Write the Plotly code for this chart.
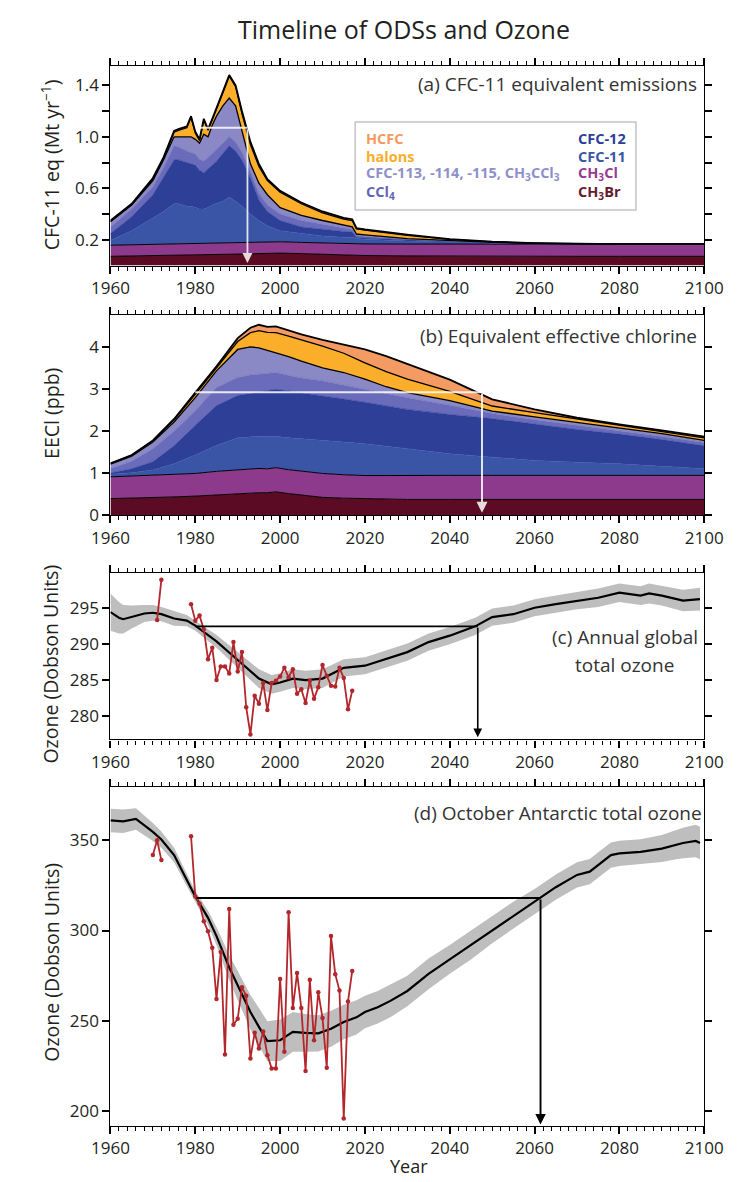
import plotly.graph_objects as go

FONT = "Open Sans"
TXT = "#231F20"

# ---------------- Panel (a): CFC-11 equivalent emissions (Mt/yr) ----------------
years_a = [1960, 1965, 1970, 1972.5, 1975, 1976, 1978, 1979, 1980, 1981, 1982, 1983, 1984,
           1985, 1986.5, 1988, 1989.5, 1991, 1993, 1995, 1997, 2000, 2005, 2010, 2015, 2017,
           2018, 2020, 2030, 2040, 2050, 2060, 2070, 2080, 2100]
a_ch3br = [.072, .074, .076, .077, .078, .078, .079, .080, .080, .081, .082, .083, .084, .085, .087,
           .088, .089, .090, .092, .094, .095, .097, .093, .088, .083, .080, .079, .078, .075, .073,
           .072, .072, .072, .072, .072]
a_ch3cl = [.086, .088, .089, .090, .090, .091, .091, .091, .092, .092, .092, .092, .092, .092, .091,
           .092, .091, .091, .090, .089, .089, .088, .087, .087, .087, .089, .089, .090, .092, .094,
           .095, .095, .095, .095, .095]
a_cfc11 = [.037, .108, .205, .253, .312, .311, .290, .289, .278, .267, .266, .275, .294, .303, .322,
           .350, .320, .279, .218, .167, .126, .085, .070, .055, .050, .051, .042, .037, .023, .013,
           .006, .002, 0, 0, 0]
a_cfc12 = [.055, .110, .180, .260, .340, .340, .340, .330, .330, .300, .280, .300, .310, .330, .370,
           .400, .390, .360, .280, .160, .110, .080, .050, .050, .045, .040, .010, .010, .008, .006,
           .003, .001, .001, 0, 0]
a_ccl4 = [.050, .060, .060, .080, .110, .100, .090, .090, .085, .085, .090, .090, .090, .090, .080,
          .070, .070, .060, .050, .050, .050, .050, .050, .040, .025, .020, .015, .013, .007, .004,
          .002, .001, 0, 0, 0]
a_cfc113 = [.040, .030, .050, .060, .070, .080, .110, .120, .115, .125, .210, .160, .220, .260, .290,
            .300, .280, .160, .060, .080, .080, .050, .040, .030, .020, .020, .010, .010, .005, .003,
            .002, .001, .001, 0, 0]
a_halons = [.005, .005, .010, .010, .035, .050, .070, .150, .050, .020, .110, .050, .040, .050, .100,
            .170, .150, .140, .150, .130, .110, .120, .090, .060, .050, .050, .040, .037, .025, .010,
            .004, .002, 0, 0, 0]
a_hcfc = [.005, .005, .010, .010, .010, .010, .010, .010, .010, .010, .010, .010, .010, .010, .010,
          .010, .010, .020, .020, .020, .010, .010, .010, .010, .010, .010, .005, .005, .005, .003,
          .002, .001, 0, 0, 0]

# ---------------- Panel (b): Equivalent effective chlorine (ppb) ----------------
years_b = [1960, 1965, 1970, 1975, 1980, 1985, 1990, 1993, 1995, 1997, 1999, 2002, 2005, 2010,
           2015, 2020, 2025, 2030, 2040, 2050, 2060, 2070, 2080, 2090, 2100]
b_ch3br = [.39, .40, .42, .43, .45, .48, .51, .52, .53, .53, .55, .51, .47, .42, .40, .39, .38, .37,
           .37, .37, .37, .37, .37, .37, .37]
b_ch3cl = [.52, .53, .53, .54, .54, .56, .57, .58, .58, .57, .58, .57, .58, .57, .56, .55, .56, .575,
           .575, .575, .575, .575, .575, .575, .575]
b_cfc11 = [.06, .08, .12, .25, .44, .62, .76, .77, .77, .77, .75, .76, .77, .79, .78, .76, .70, .635,
           .515, .435, .355, .315, .275, .215, .155]
b_cfc12 = [.03, .09, .20, .43, .71, .95, 1.01, 1.03, 1.04, 1.09, 1.12, 1.12, 1.10, 1.07, 1.03, .99,
           .96, .94, .94, .92, .87, .78, .71, .64, .55]
b_ccl4 = [.10, .18, .31, .35, .35, .43, .43, .44, .44, .42, .40, .37, .35, .35, .33, .31, .30, .28,
          .22, .12, .10, .10, .08, .07, .08]
b_cfc113 = [.11, .12, .16, .22, .31, .40, .67, .67, .63, .55, .48, .45, .40, .31, .30, .24, .16, .12,
            .11, .06, .07, .07, .06, .07, .05]
b_halons = [.015, .02, .03, .05, .08, .08, .19, .34, .41, .43, .47, .49, .51, .52, .46, .39, .36, .32,
            .22, .12, .10, .08, .06, .05, .06]
b_hcfc = [.005, .01, .01, .02, .04, .03, .08, .12, .14, .13, .15, .13, .13, .15, .21, .32, .37, .36,
          .28, .16, .08, .03, .03, .03, .03]

# ---------------- Panel (c): Annual global total ozone (DU) ----------------
years_c = [1960, 1962, 1963, 1965, 1968, 1970, 1972, 1975, 1978, 1980, 1985, 1990, 1995, 1998, 2000,
           2003, 2006, 2010, 2015, 2020, 2023, 2030, 2035, 2040, 2046, 2050, 2055, 2060, 2065, 2070,
           2075, 2080, 2085, 2087, 2090, 2095, 2099]
c_mean = [294.5, 293.7, 293.5, 293.8, 294.3, 294.4, 294.2, 293.6, 293.3, 292.6, 290.4, 287.8, 285.2,
          284.4, 284.65, 285.2, 285.0, 285.2, 286.7, 287.0, 287.6, 288.9, 290.3, 291.2, 292.5, 293.8,
          294.2, 295.1, 295.6, 296.1, 296.5, 297.2, 296.8, 297.1, 296.8, 296.1, 296.3]
c_half = [2.6, 2.2, 2.0, 1.6, 1.2, 1.1, 1.0, 1.0, 0.8, 0.7, 0.9, 1.1, 1.3, 1.3, 1.3, 1.3, 1.3, 1.3,
          1.2, 1.2, 1.2, 1.2, 1.2, 1.2, 1.2, 1.2, 1.2, 1.2, 1.2, 1.2, 1.3, 1.3, 1.3, 1.4, 1.4, 1.5, 1.6]
obs_years_c = list(range(1971, 2018))
obs_c = [293.4, 299.0, None, None, None, None, None, None, 295.6, 293.3, 294.0, 292.1, 287.9, 289.5,
         285.0, 286.9, 286.9, 285.9, 290.3, 286.2, 288.9, 281.2, 277.4, 282.8, 281.7, 284.6, 280.8,
         284.6, 284.9, 285.5, 286.7, 285.4, 286.5, 283.1, 283.7, 281.8, 284.9, 282.4, 284.0, 287.1,
         285.6, 284.2, 284.1, 286.7, 285.3, 280.9, 283.5]

# ---------------- Panel (d): October Antarctic total ozone (DU) ----------------
years_d = [1960, 1963, 1966, 1968, 1970, 1972, 1975, 1978, 1980, 1983, 1985, 1988, 1990, 1993, 1995,
           1997, 2000, 2003, 2006, 2009, 2012, 2015, 2018, 2020, 2023, 2026, 2030, 2035, 2040, 2045,
           2050, 2055, 2060, 2065, 2070, 2073, 2075, 2078, 2080, 2085, 2090, 2093, 2095, 2098, 2099]
d_mean = [361.0, 360.5, 361.8, 358.2, 354.6, 350.4, 341.8, 328.0, 318.9, 307.0, 296.9, 279.5, 269.4,
          254.8, 246.6, 238.7, 239.2, 243.8, 243.3, 243.0, 245.6, 249.3, 251.9, 254.8, 257.5, 261.0,
          266.5, 276.0, 284.0, 292.0, 300.5, 308.5, 316.0, 324.0, 330.8, 332.6, 336.3, 341.8, 342.7,
          343.6, 345.4, 347.3, 348.5, 349.6, 348.5]
d_half = [6.5, 6.5, 6.0, 5.5, 5.0, 4.5, 4.0, 3.5, 3.0, 4.0, 5.0, 7.0, 8.0, 9.5, 10.5, 11.0, 11.5, 11.0,
          10.5, 10.0, 10.0, 9.5, 9.5, 9.0, 9.0, 9.0, 8.5, 8.5, 8.0, 8.0, 7.5, 7.5, 7.0, 7.0, 7.0, 7.0,
          7.0, 7.0, 7.0, 7.0, 7.5, 8.0, 8.5, 9.0, 9.0]
obs_years_d = list(range(1970, 2018))
obs_d = [341.8, 350.0, 339.0, None, None, None, None, None, None, 352.2, 318.9, 314.8, 305.1, 299.6,
         290.5, 262.1, 288.1, 231.3, 311.9, 247.8, 251.1, 268.5, 263.9, 229.1, 243.4, 234.6, 244.1,
         230.9, 223.6, 223.6, 273.1, 232.8, 310.1, 257.0, 276.4, 257.0, 222.1, 272.7, 239.2, 265.8,
         251.5, 224.0, 296.9, 275.8, 266.7, 195.8, 260.6, 277.6]

# return-date guide lines: (start year, return year, level, arrow tip)
guide_a = (1981.2, 1992.3, 1.07, 0.02)
guide_b = (1980.0, 2047.6, 2.93, 0.05)
guide_c = (1980.0, 2046.6, 292.5, 277.0)
guide_d = (1980.3, 2061.4, 318.0, 192.5)

# ---------------- styling ----------------
COL = {
    "CH3Br": "#5C0B25", "CH3Cl": "#8E3A8C", "CFC-11": "#3A55A6", "CFC-12": "#2E3F98",
    "CCl4": "#6A6CBB", "CFC-113": "#8A89C6", "halons": "#FBAE2A", "HCFC": "#F39B62",
}
OUTLINE = {"CH3Br": 1.0, "CH3Cl": 1.0, "CFC-11": 0, "CFC-12": 0, "CCl4": 0,
           "CFC-113": 1.3, "halons": 1.3, "HCFC": 1.8}

W, H = 738, 1182
def fx(px): return px / W
def fy(py): return 1 - py / H

X0, X1 = 88, 714
panels = {  # top, bottom pixel rows
    "a": (59, 260), "b": (310, 511.7), "c": (570.7, 738.3), "d": (786.7, 1128.3)
}

fig = go.Figure()

def add_stack(xs, series, ax, ay, group):
    for name, vals in series:
        lw = OUTLINE[name]
        fig.add_trace(go.Scatter(
            x=xs, y=vals, stackgroup=group, mode="lines",
            line=dict(color="black" if lw > 0 else COL[name], width=lw if lw > 0 else 0.6),
            fillcolor=COL[name], xaxis=ax, yaxis=ay, showlegend=False, hoverinfo="skip"))

add_stack(years_a, [("CH3Br", a_ch3br), ("CH3Cl", a_ch3cl), ("CFC-11", a_cfc11), ("CFC-12", a_cfc12),
                    ("CCl4", a_ccl4), ("CFC-113", a_cfc113), ("halons", a_halons), ("HCFC", a_hcfc)],
          "x", "y", "a")
add_stack(years_b, [("CH3Br", b_ch3br), ("CH3Cl", b_ch3cl), ("CFC-11", b_cfc11), ("CFC-12", b_cfc12),
                    ("CCl4", b_ccl4), ("CFC-113", b_cfc113), ("halons", b_halons), ("HCFC", b_hcfc)],
          "x2", "y2", "b")

def add_ozone(xs, mean, half, oyears, obs, ax, ay):
    lo = [m - h for m, h in zip(mean, half)]
    hi = [m + h for m, h in zip(mean, half)]
    fig.add_trace(go.Scatter(x=xs, y=lo, mode="lines", line=dict(width=0, color="#BEBEBE"),
                             xaxis=ax, yaxis=ay, showlegend=False, hoverinfo="skip"))
    fig.add_trace(go.Scatter(x=xs, y=hi, mode="lines", line=dict(width=0, color="#BEBEBE"),
                             fill="tonexty", fillcolor="#BEBEBE",
                             xaxis=ax, yaxis=ay, showlegend=False, hoverinfo="skip"))
    fig.add_trace(go.Scatter(x=xs, y=mean, mode="lines", line=dict(width=2.2, color="black"),
                             xaxis=ax, yaxis=ay, showlegend=False, hoverinfo="skip"))
    fig.add_trace(go.Scatter(x=oyears, y=obs, mode="lines+markers", connectgaps=False,
                             line=dict(width=1.8, color="#B3262B"),
                             marker=dict(size=4.5, color="#B3262B"),
                             xaxis=ax, yaxis=ay, showlegend=False, hoverinfo="skip"))

add_ozone(years_c, c_mean, c_half, obs_years_c, obs_c, "x3", "y3")
add_ozone(years_d, d_mean, d_half, obs_years_d, obs_d, "x4", "y4")

# ---------------- axes ----------------
tickfont = dict(family=FONT, size=17, color=TXT)
def xaxis_cfg(anchor):
    return dict(domain=[fx(X0), fx(X1)], anchor=anchor, range=[1960, 2100], tick0=1960, dtick=20,
                ticks="outside", ticklen=7, tickwidth=1.8, tickcolor="black",
                showline=True, linecolor="black", linewidth=1.4, mirror="ticks",
                showgrid=False, zeroline=False, tickfont=tickfont,
                minor=dict(dtick=2, tick0=1960, ticks="outside", ticklen=4, tickwidth=1,
                           tickcolor="black", showgrid=False))

def yaxis_cfg(anchor, key, rng, vals, text=None):
    t, b = panels[key]
    cfg = dict(domain=[fy(b), fy(t)], anchor=anchor, range=rng, tickmode="array", tickvals=vals,
               ticks="outside", ticklen=7, tickwidth=1.8, tickcolor="black",
               showline=True, linecolor="black", linewidth=1.4, mirror="ticks",
               showgrid=False, zeroline=False, tickfont=tickfont)
    if text is not None:
        cfg["ticktext"] = text
    return cfg

fig.update_layout(
    xaxis=xaxis_cfg("y"), xaxis2=xaxis_cfg("y2"), xaxis3=xaxis_cfg("y3"), xaxis4=xaxis_cfg("y4"),
    yaxis=yaxis_cfg("x", "a", [0, 1.546], [0.2, 0.4, 0.6, 0.8, 1.0, 1.2, 1.4],
                    ["0.2", "", "0.6", "", "1.0", "", "1.4"]),
    yaxis2=yaxis_cfg("x2", "b", [0, 4.77], [0, 1, 2, 3, 4]),
    yaxis3=yaxis_cfg("x3", "c", [276.7, 299.9], [280, 285, 290, 295]),
    yaxis4=yaxis_cfg("x4", "d", [191.8, 379.3], [200, 250, 300, 350]),
)

# ---------------- guide lines and arrows ----------------
def add_guide(g, ax, ay, color, width):
    x0, x1, lev, tip = g
    fig.add_shape(type="line", xref=ax, yref=ay, x0=x0, x1=x1, y0=lev, y1=lev,
                  line=dict(color=color, width=width), layer="above")
    fig.add_annotation(x=x1, y=tip, ax=x1, ay=lev, xref=ax, yref=ay, axref=ax, ayref=ay,
                       text="", showarrow=True, arrowhead=2, arrowsize=1.1, arrowwidth=width,
                       arrowcolor=color)

add_guide(guide_a, "x", "y", "rgba(255,255,255,0.85)", 1.8)
add_guide(guide_b, "x2", "y2", "rgba(255,255,255,0.85)", 2.0)
add_guide(guide_c, "x3", "y3", "black", 1.6)
add_guide(guide_d, "x4", "y4", "black", 1.9)

# ---------------- legend box in panel (a) ----------------
fig.add_shape(type="rect", xref="paper", yref="paper", x0=fx(346), x1=fx(642), y0=fy(204), y1=fy(115),
              line=dict(color="#C4C4C4", width=1.5), fillcolor="white", layer="above")
leg_left = [("HCFC", "HCFC", 131.5), ("halons", "halons", 149.5),
            ("CFC-113, -114, -115, CH<sub>3</sub>CCl<sub>3</sub>", "CFC-113", 167.5),
            ("CCl<sub>4</sub>", "CCl4", 186)]
leg_right = [("CFC-12", "CFC-12", 131.5), ("CFC-11", "CFC-11", 149.5),
             ("CH<sub>3</sub>Cl", "CH3Cl", 167.5), ("CH<sub>3</sub>Br", "CH3Br", 186)]
leg_text_col = {"HCFC": "#F59A5E", "halons": "#FBAE2A", "CFC-113": "#8F8FCB", "CCl4": "#6365B8",
                "CFC-12": "#2E3F99", "CFC-11": "#3A56A8", "CH3Cl": "#963C92", "CH3Br": "#641B2E"}
for items, xpx in ((leg_left, 355), (leg_right, 579)):
    for txt_, key, ypx in items:
        fig.add_annotation(x=fx(xpx), y=fy(ypx), xref="paper", yref="paper", text=f"<b>{txt_}</b>",
                           showarrow=False, xanchor="left", yanchor="middle",
                           font=dict(family=FONT, size=14.5, color=leg_text_col[key]))

# ---------------- text ----------------
def txt(x, y, s, size, anchor="center", angle=0, color=TXT):
    fig.add_annotation(x=fx(x), y=fy(y), xref="paper", yref="paper", text=s, showarrow=False,
                       xanchor=anchor, yanchor="middle", textangle=angle,
                       font=dict(family=FONT, size=size, color=color))

LAB = "#333333"
txt(397, 21, "Timeline of ODSs and Ozone", 25)
txt(709, 77, "(a) CFC-11 equivalent emissions", 19, "right", color=LAB)
txt(709, 331, "(b) Equivalent effective chlorine", 19, "right", color=LAB)
txt(630, 635, "(c) Annual global", 19, "center", color=LAB)
txt(630, 663, "total ozone", 19, "center", color=LAB)
txt(714, 813, "(d) October Antarctic total ozone", 19, "right", color=LAB)
txt(25, 158, "CFC-11 eq (Mt yr<sup>−1</sup>)", 19.5, angle=-90)
txt(25, 409, "EECl (ppb)", 19.5, angle=-90)
txt(25, 662, "Ozone (Dobson Units)", 19.5, angle=-90)
txt(25, 963, "Ozone (Dobson Units)", 19.5, angle=-90)
txt(403, 1169, "Year", 18)

fig.update_layout(width=W, height=H, margin=dict(l=0, r=0, t=0, b=0), paper_bgcolor="white",
                  plot_bgcolor="white", showlegend=False, font=dict(family=FONT, color=TXT))

fig.write_html("out.html")
